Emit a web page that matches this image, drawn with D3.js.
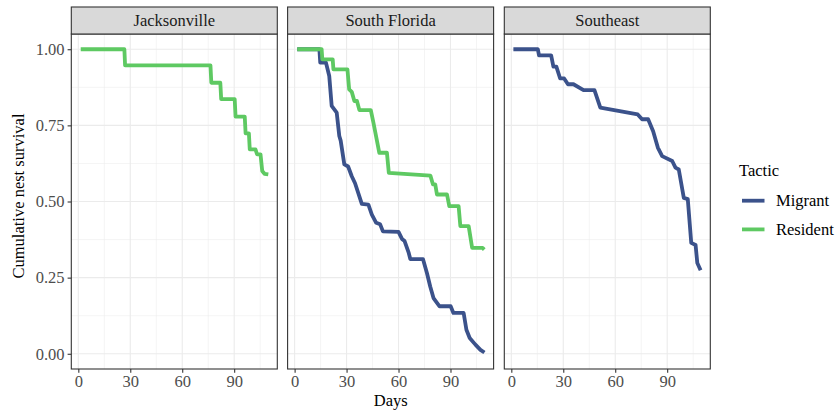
<!DOCTYPE html>
<html>
<head>
<meta charset="utf-8">
<script src="https://cdn.jsdelivr.net/npm/d3@7/dist/d3.min.js"></script>
<style>
  html, body { margin: 0; padding: 0; background: #ffffff; }
  svg { display: block; }
  text { font-family: "Liberation Serif", "DejaVu Serif", serif; }
</style>
</head>
<body>
<svg id="chart" width="835" height="414"></svg>
<script>
// ---------------- data ----------------
const panels = ["Jacksonville", "South Florida", "Southeast"];
const tactics = ["Migrant", "Resident"];
const tacticColors = ["#3b528b", "#5ec962"];
const xTicks = [0, 30, 60, 90];
const xMinorTicks = [15, 45, 75, 105];
const yTicks = [0, 0.25, 0.5, 0.75, 1];
const yTickLabels = ["0.00", "0.25", "0.50", "0.75", "1.00"];
const yMinorTicks = [0.125, 0.375, 0.625, 0.875];

// Jacksonville - Resident
const jaxResidentDays = [1.4, 26.6, 27.0, 76.3, 76.8, 82.0, 82.5, 90.3, 90.8, 96.1, 96.6, 98.5, 99.0, 102.3, 103.2, 105.2, 106.2, 107.5, 109.7];
const jaxResidentSurv = [1, 1, 0.947, 0.947, 0.890, 0.890, 0.836, 0.836, 0.779, 0.779, 0.724, 0.724, 0.671, 0.671, 0.655, 0.655, 0.600, 0.591, 0.589];

// South Florida - Migrant
const sflMigrantDays = [1.5, 14.3, 14.8, 18.1, 20.0, 21.4, 24.3, 25.8, 26.6, 28.7, 30.9, 33.0, 34.9, 38.8, 42.6, 44.6, 47.1, 49.4, 51.0, 60.0, 62.0, 63.5, 65.9, 66.8, 74.1, 76.4, 78.3, 80.2, 83.7, 90.1, 91.7, 97.6, 99.2, 101.1, 104.4, 107.3, 109.6];
const sflMigrantSurv = [1, 1, 0.956, 0.956, 0.912, 0.814, 0.792, 0.715, 0.700, 0.622, 0.615, 0.583, 0.560, 0.492, 0.490, 0.457, 0.430, 0.425, 0.402, 0.400, 0.377, 0.370, 0.331, 0.311, 0.311, 0.265, 0.221, 0.183, 0.156, 0.156, 0.134, 0.134, 0.079, 0.052, 0.030, 0.013, 0.004];

// South Florida - Resident
const sflResidentDays = [1.5, 15.6, 16.0, 22.0, 22.4, 30.5, 31.5, 33.0, 34.5, 36.0, 37.4, 44.0, 45.5, 46.6, 48.9, 53.3, 54.4, 78.4, 79.9, 81.2, 82.2, 88.0, 89.3, 94.7, 95.7, 100.5, 102.5, 108.5, 109.5];
const sflResidentSurv = [1, 1, 0.967, 0.967, 0.934, 0.934, 0.868, 0.860, 0.830, 0.830, 0.800, 0.800, 0.759, 0.727, 0.660, 0.660, 0.594, 0.585, 0.556, 0.556, 0.523, 0.523, 0.485, 0.485, 0.419, 0.419, 0.348, 0.348, 0.342];

// Southeast - Migrant
const seMigrantDays = [1.2, 15.3, 16.0, 23.0, 24.3, 26.0, 28.2, 30.5, 32.7, 35.9, 41.7, 48.0, 51.4, 73.0, 75.5, 79.0, 81.9, 84.6, 87.1, 92.9, 94.8, 96.7, 99.6, 101.9, 103.9, 106.4, 107.4, 109.3];
const seMigrantSurv = [1, 1, 0.980, 0.980, 0.943, 0.943, 0.904, 0.904, 0.885, 0.885, 0.866, 0.866, 0.808, 0.786, 0.770, 0.770, 0.731, 0.677, 0.649, 0.633, 0.611, 0.605, 0.512, 0.508, 0.364, 0.357, 0.298, 0.274];

const seriesList = [
  { panel: "Jacksonville", tactic: "Resident", days: jaxResidentDays, surv: jaxResidentSurv },
  { panel: "South Florida", tactic: "Migrant", days: sflMigrantDays, surv: sflMigrantSurv },
  { panel: "South Florida", tactic: "Resident", days: sflResidentDays, surv: sflResidentSurv },
  { panel: "Southeast", tactic: "Migrant", days: seMigrantDays, surv: seMigrantSurv }
];

// ---------------- layout ----------------
const svg = d3.select("#chart");
const panelLefts = [71.3, 287.6, 504.3];
const panelWidth = 206;
const stripTop = 7, stripBottom = 34, plotBottom = 369;
const fontSize = 16.5;
const color = d3.scaleOrdinal().domain(tactics).range(tacticColors);

const y = d3.scaleLinear().domain([-0.05, 1.05]).range([plotBottom, stripBottom]);

svg.append("rect").attr("width", 835).attr("height", 414).attr("fill", "#ffffff");

panels.forEach((name, i) => {
  const left = panelLefts[i];
  const x = d3.scaleLinear().domain([-4.05, 114.9]).range([left, left + panelWidth]);
  const g = svg.append("g");

  // panel background
  g.append("rect").attr("x", left).attr("y", stripBottom).attr("width", panelWidth)
    .attr("height", plotBottom - stripBottom).attr("fill", "#ffffff");

  // minor grid
  g.selectAll(".vminor").data(xMinorTicks).enter().append("line")
    .attr("x1", d => x(d)).attr("x2", d => x(d)).attr("y1", stripBottom).attr("y2", plotBottom)
    .attr("stroke", "#ebebeb").attr("stroke-width", 0.55);
  g.selectAll(".hminor").data(yMinorTicks).enter().append("line")
    .attr("x1", left).attr("x2", left + panelWidth).attr("y1", d => y(d)).attr("y2", d => y(d))
    .attr("stroke", "#ebebeb").attr("stroke-width", 0.55);
  // major grid
  g.selectAll(".vmajor").data(xTicks).enter().append("line")
    .attr("x1", d => x(d)).attr("x2", d => x(d)).attr("y1", stripBottom).attr("y2", plotBottom)
    .attr("stroke", "#ebebeb").attr("stroke-width", 1.1);
  g.selectAll(".hmajor").data(yTicks).enter().append("line")
    .attr("x1", left).attr("x2", left + panelWidth).attr("y1", d => y(d)).attr("y2", d => y(d))
    .attr("stroke", "#ebebeb").attr("stroke-width", 1.1);

  // data lines
  const line = d3.line().x(d => x(d[0])).y(d => y(d[1]));
  seriesList.filter(s => s.panel === name)
    .sort((a, b) => tactics.indexOf(a.tactic) - tactics.indexOf(b.tactic))
    .forEach(s => {
      const pts = s.days.map((d, k) => [d, s.surv[k]]);
      g.append("path").datum(pts).attr("d", line)
        .attr("fill", "none").attr("stroke", color(s.tactic))
        .attr("stroke-width", 3.8).attr("stroke-linejoin", "round").attr("stroke-linecap", "butt");
    });

  // panel border
  g.append("rect").attr("x", left).attr("y", stripBottom).attr("width", panelWidth)
    .attr("height", plotBottom - stripBottom).attr("fill", "none")
    .attr("stroke", "#333333").attr("stroke-width", 1.1);

  // strip
  g.append("rect").attr("x", left).attr("y", stripTop).attr("width", panelWidth)
    .attr("height", stripBottom - stripTop).attr("fill", "#d9d9d9")
    .attr("stroke", "#333333").attr("stroke-width", 1.1);
  g.append("text").attr("x", left + panelWidth / 2).attr("y", 26)
    .attr("text-anchor", "middle").attr("font-size", fontSize).attr("fill", "#1a1a1a").text(name);

  // x axis
  const xAxis = d3.axisBottom(x).tickValues(xTicks).tickSize(3.7).tickPadding(3).tickFormat(d3.format("d"));
  const xa = g.append("g").attr("transform", `translate(0,${plotBottom})`).call(xAxis);
  xa.select(".domain").remove();
  xa.selectAll(".tick line").attr("stroke", "#333333").attr("stroke-width", 1.1);
  xa.selectAll(".tick text").attr("font-size", fontSize).attr("fill", "#4d4d4d")
    .attr("font-family", "Liberation Serif, serif");

  // y axis (only first panel)
  if (i === 0) {
    const yAxis = d3.axisLeft(y).tickValues(yTicks).tickSize(3.7).tickPadding(3)
      .tickFormat((d, k) => yTickLabels[k]);
    const ya = g.append("g").attr("transform", `translate(${left},0)`).call(yAxis);
    ya.select(".domain").remove();
    ya.selectAll(".tick line").attr("stroke", "#333333").attr("stroke-width", 1.1);
    ya.selectAll(".tick text").attr("font-size", fontSize).attr("fill", "#4d4d4d")
      .attr("font-family", "Liberation Serif, serif");
  }
});

// axis titles
svg.append("text").attr("x", (panelLefts[0] + panelLefts[2] + panelWidth) / 2).attr("y", 406)
  .attr("text-anchor", "middle").attr("font-size", fontSize).attr("fill", "#000").text("Days");
svg.append("text").attr("transform", "translate(24,196) rotate(-90)")
  .attr("text-anchor", "middle").attr("font-size", fontSize).attr("fill", "#000").text("Cumulative nest survival");

// legend
const lg = svg.append("g");
lg.append("text").attr("x", 739).attr("y", 176).attr("font-size", fontSize).attr("fill", "#000").text("Tactic");
tactics.forEach((t, k) => {
  const cy = 200.7 + k * 28.7;
  lg.append("line").attr("x1", 742).attr("x2", 764.5).attr("y1", cy).attr("y2", cy)
    .attr("stroke", color(t)).attr("stroke-width", 3.8);
  lg.append("text").attr("x", 776).attr("y", cy + 5.6).attr("font-size", fontSize).attr("fill", "#000").text(t);
});
</script>
</body>
</html>
